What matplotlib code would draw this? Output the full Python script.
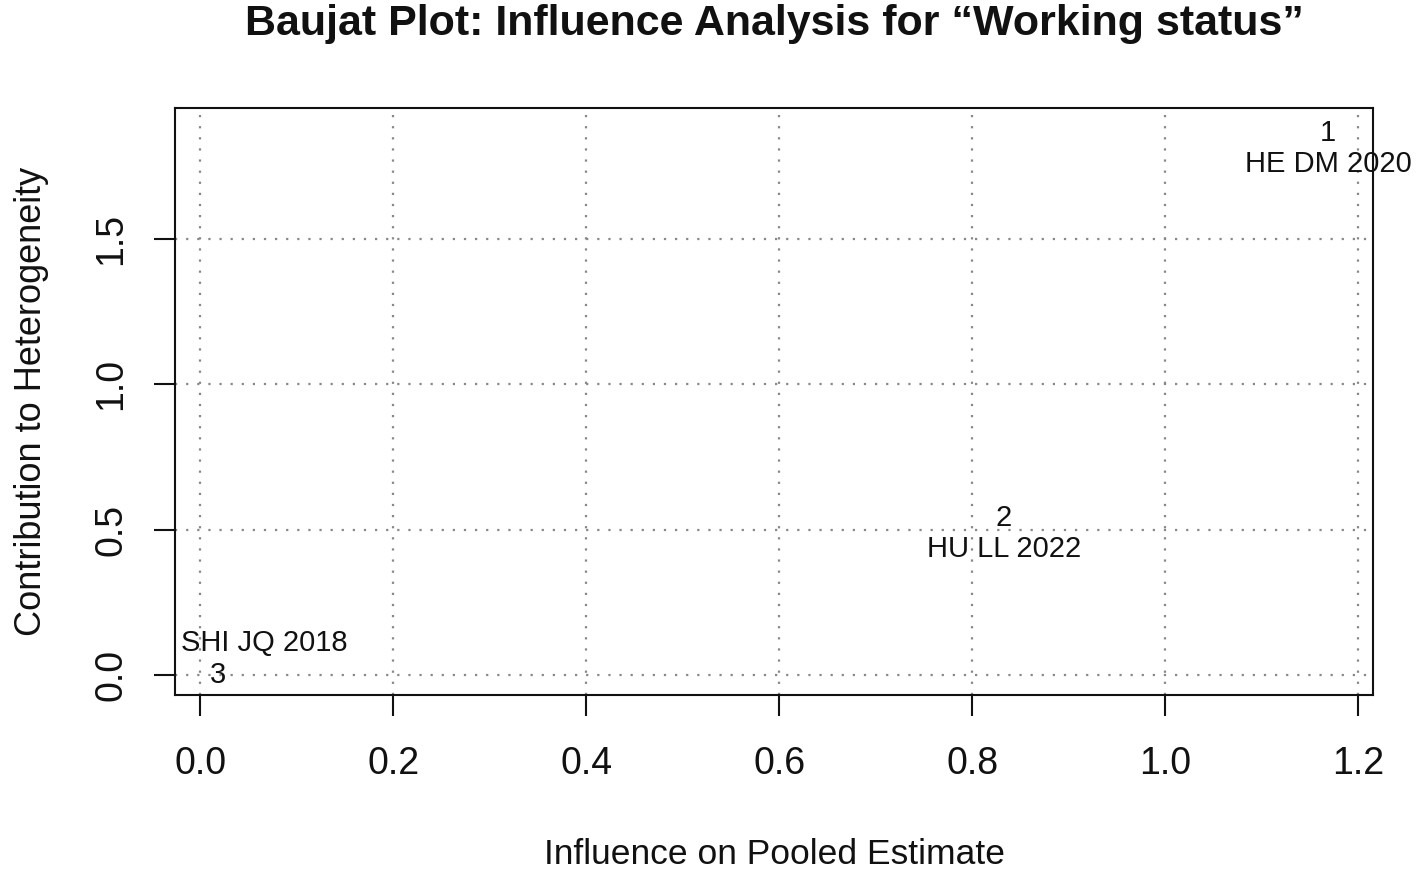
import matplotlib
matplotlib.use("Agg")
import matplotlib.pyplot as plt

# Data
study_ids = ["1", "2", "3"]
study_labels = ["HE DM 2020", "HU LL 2022", "SHI JQ 2018"]
influence = [1.169, 0.833, 0.019]
heterogeneity = [1.865, 0.540, 0.000]
xticks = [0.0, 0.2, 0.4, 0.6, 0.8, 1.0, 1.2]
yticks = [0.0, 0.5, 1.0, 1.5]

plt.rcParams['font.family'] = ['Liberation Sans', 'DejaVu Sans']

fig = plt.figure(figsize=(14.18, 8.74), dpi=100)
ax = fig.add_axes([0.1234, 0.2048, 0.8449, 0.6716])

ax.set_xlim(-0.026, 1.2155)
ax.set_ylim(-0.0688, 1.951)

ax.grid(True, linestyle=(0, (1, 4)), color='#888888', linewidth=1.6)
ax.set_axisbelow(True)

# label offsets (points) for each study label relative to its point
offsets = [(0, -22), (0, -22), (33, 23)]
for sid, lab, x, y, off in zip(study_ids, study_labels, influence, heterogeneity, offsets):
    ax.text(x, y, sid, ha='center', va='center', fontsize=21, color='#111111')
    ax.annotate(lab, (x, y), xytext=off, textcoords='offset points',
                ha='center', va='center', fontsize=21, color='#111111')

ax.set_xticks(xticks)
ax.set_xticklabels([f"{v:.1f}" for v in xticks])
ax.set_yticks(yticks)
ax.set_yticklabels([f"{v:.1f}" for v in yticks], rotation=90, va='center')
ax.tick_params(axis='both', length=15, width=1.5, labelsize=27, colors='#111111')
ax.tick_params(axis='x', pad=22)
ax.tick_params(axis='y', pad=18)
for s in ax.spines.values():
    s.set_linewidth(1.5)
    s.set_color('#111111')

ax.set_xlabel("Influence on Pooled Estimate", fontsize=25.5, labelpad=40, color='#111111')
ax.set_ylabel("Contribution to Heterogeneity", fontsize=26, labelpad=32, color='#111111')
fig.text(0.546, 0.972, "Baujat Plot: Influence Analysis for \u201cWorking status\u201d",
         ha='center', va='center', fontsize=31, fontweight='bold', color='#111111')

fig.savefig("out.png", dpi=100)
